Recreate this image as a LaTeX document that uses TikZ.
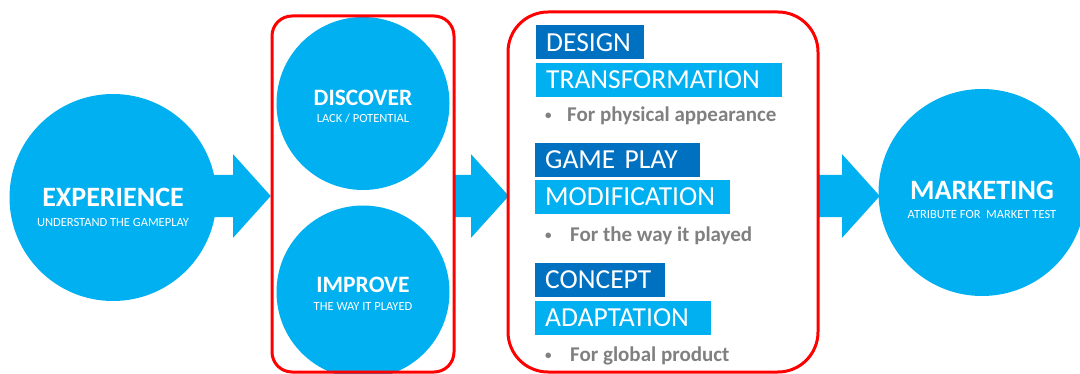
\documentclass[tikz,border=0pt]{standalone}
\usepackage{fontspec}
\setmainfont{Carlito}
\usetikzlibrary{positioning,shapes.arrows}
\definecolor{sky}{HTML}{00B0F0}
\definecolor{navy}{HTML}{0070C0}
\definecolor{redline}{HTML}{FF0000}
\definecolor{note}{HTML}{808080}
\newcommand{\dotmark}{\raisebox{2.5pt}{\fontsize{13}{13}\selectfont\textbullet}}
\tikzset{
    x=1pt,
    y=-1pt,
    bubble/.style = {
        shape=circle,
        fill=sky,
        inner sep=0pt
    },
    bighead/.style = {
        text=white,
        inner sep=0pt,
        font=\bfseries\fontsize{28}{28}\selectfont
    },
    midhead/.style = {
        text=white,
        inner sep=0pt,
        font=\bfseries\fontsize{23.5}{24}\selectfont
    },
    subline/.style = {
        text=white,
        inner sep=0pt,
        font=\fontsize{12.5}{13}\selectfont
    },
    flow/.style = {
        shape=single arrow,
        anchor=tip,
        fill=sky,
        inner xsep=0pt,
        inner ysep=21pt,
        single arrow head extend=20.5pt,
        single arrow tip angle=96
    },
    group/.style = {
        draw=redline,
        shape=rectangle,
        line width=3pt
    },
    tag/.style = {
        anchor=west,
        inner xsep=10pt,
        inner ysep=0pt,
        minimum height=34pt,
        text=white,
        align=left,
        font=\fontsize{27.5}{28}\selectfont
    },
    darktag/.style = {tag, fill=navy},
    lighttag/.style = {tag, fill=sky},
    bullet/.style = {
        anchor=base west,
        inner sep=0pt,
        text=note,
        font=\bfseries\fontsize{21}{22}\selectfont
    },
}
\begin{document}
\begin{tikzpicture}
    \useasboundingbox (0,0) rectangle (1080,374);

    % arrows between the stages
    \node[flow, minimum height=71pt] (arrA) at (271,196) {};
    \node[flow, minimum height=54pt] (arrB) at (509,196) {};
    \node[flow, minimum height=62pt] (arrC) at (880,196) {};

    % stage circles
    \node[bubble, minimum size=207pt] (exp) at (113,197.5) {};
    \node[bubble, minimum size=173pt] (disc) at (363,103.5) {};
    \node[bubble, minimum size=173pt] (impr) at (363,292) {};
    \node[bubble, minimum size=207pt] (mark) at (982,192.5) {};

    \node[bighead] (expT) at (113,197) {EXPERIENCE};
    \node[subline] (expS) at (113,222) {UNDERSTAND THE GAMEPLAY};
    \node[midhead] (discT) at (363,98) {DISCOVER};
    \node[subline] (discS) at (363,118) {LACK / POTENTIAL};
    \node[midhead] (imprT) at (363,285) {IMPROVE};
    \node[subline] (imprS) at (363,306) {THE WAY IT PLAYED};
    \node[bighead] (markT) at (982,190) {MARKETING};
    \node[subline] (markS) at (982,214) {ATRIBUTE FOR\ \ MARKET TEST};

    % red frames
    \node[group, rounded corners=20pt, minimum width=182pt, minimum height=356pt] (grpA) at (363,194) {};
    \node[group, rounded corners=40pt, minimum width=310pt, minimum height=360pt] (grpB) at (663,192) {};

    % design / game play / concept
    \node[darktag, text width=88pt] (design) at (536,42.5) {DESIGN};
    \node[lighttag, text width=226pt] (transf) at (536,80) {TRANSFORMATION};
    \node[bullet] (noteA) at (545,122) {\makebox[22pt][l]{\dotmark}For physical appearance};

    \node[darktag, text width=145pt] (game) at (535,160) {GAME PLAY};
    \node[lighttag, text width=175pt] (modif) at (535,197) {MODIFICATION};
    \node[bullet] (noteB) at (545,242) {\makebox[25pt][l]{\dotmark}For the way it played};

    \node[darktag, text width=110pt] (concept) at (535,280) {CONCEPT};
    \node[lighttag, text width=156pt] (adapt) at (535,318) {ADAPTATION};
    \node[bullet] (noteC) at (545,362) {\makebox[25pt][l]{\dotmark}For global product};
\end{tikzpicture}
\end{document}
